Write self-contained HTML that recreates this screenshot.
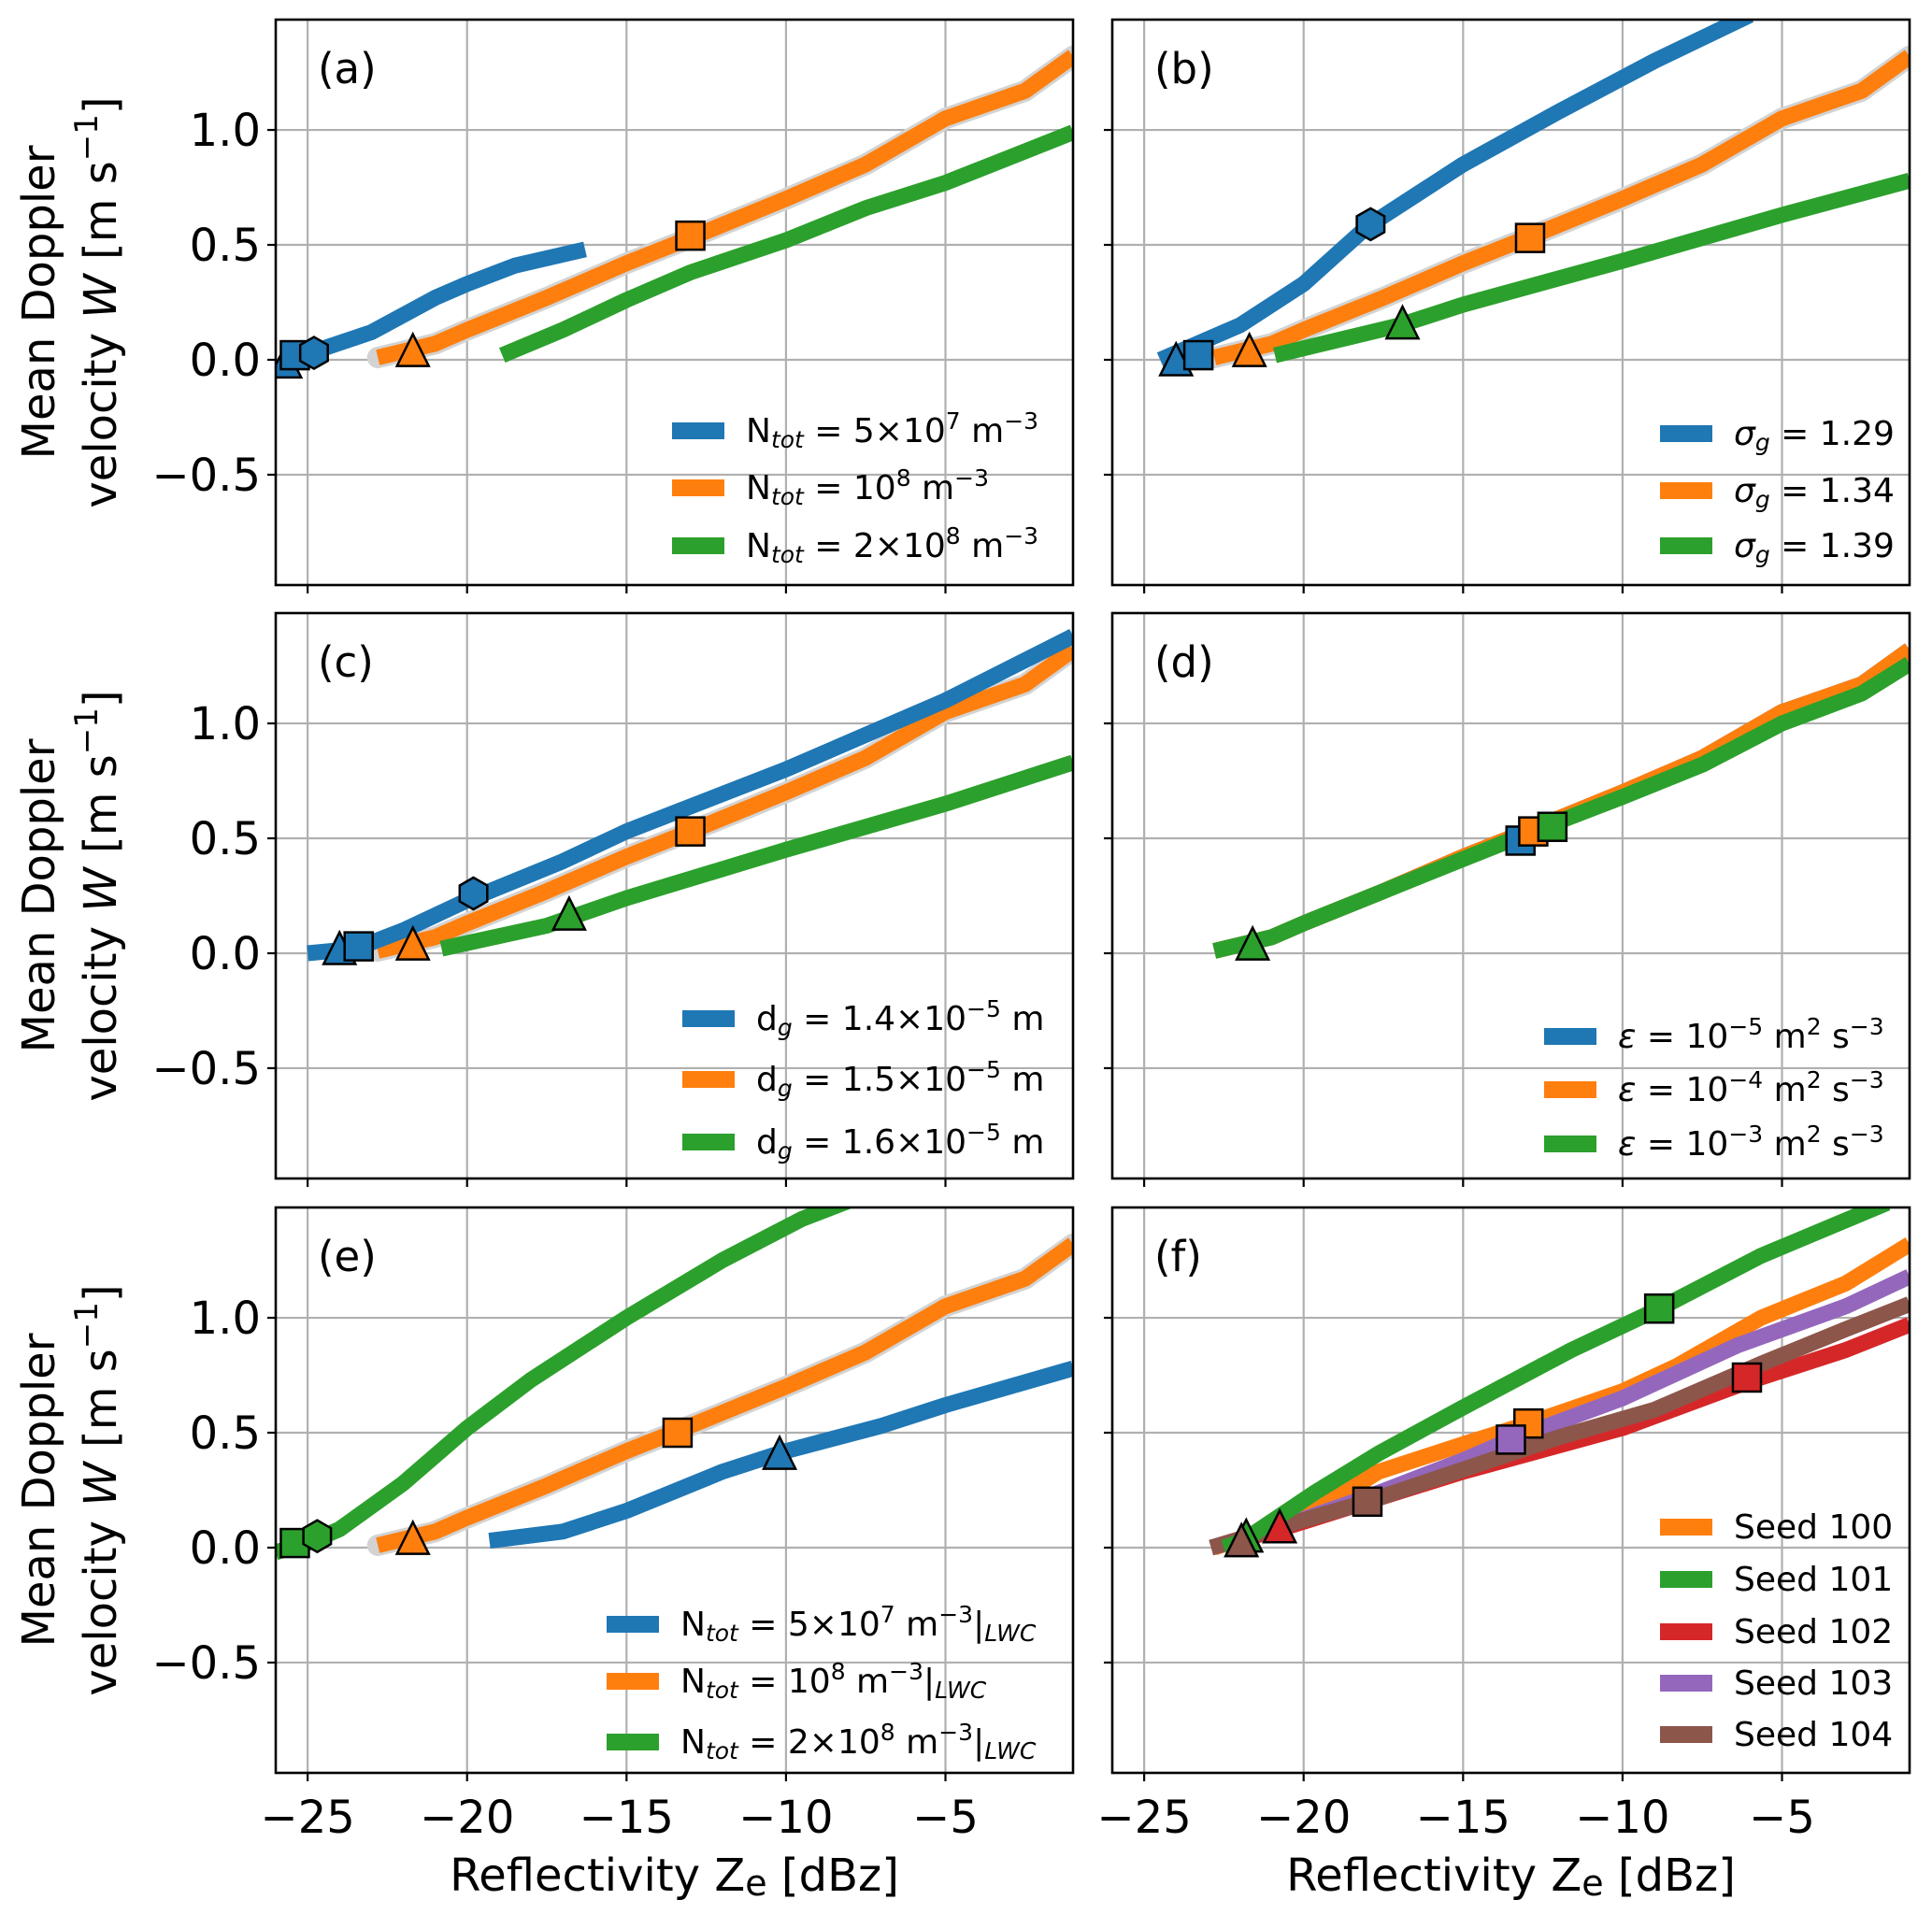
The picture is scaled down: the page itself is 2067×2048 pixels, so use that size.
<!DOCTYPE html>
<html><head><meta charset="utf-8"><style>
html,body{margin:0;padding:0;background:#fff;}
svg{display:block;font-family:"DejaVu Sans","Liberation Sans",sans-serif;}
</style></head><body>
<svg id="fig" width="2067" height="2048" viewBox="0 0 2067 2048" xmlns="http://www.w3.org/2000/svg">
<rect width="2067" height="2048" fill="#fff"/>
<g id="root"></g>
</svg>
<script>
// ---- data (x: reflectivity dBZ, y: mean Doppler velocity m/s) ----
const xTicks = [-25, -20, -15, -10, -5];
const xTickLabels = ["\u221225", "\u221220", "\u221215", "\u221210", "\u22125"];
const yTicks = [1.0, 0.5, 0.0, -0.5];
const yTickLabels = ["1.0", "0.5", "0.0", "\u22120.5"];
const panelLetters = ["(a)", "(b)", "(c)", "(d)", "(e)", "(f)"];

const refX = [-22.8, -21, -20, -17.5, -15, -13, -10, -7.5, -5, -2.5, -1];
const refY = [0.01, 0.07, 0.13, 0.27, 0.42, 0.53, 0.70, 0.85, 1.05, 1.17, 1.32];

const aBlueX = [-25.8, -24.5, -23, -21, -20, -18.5, -16.3];
const aBlueY = [0.0, 0.05, 0.12, 0.27, 0.33, 0.41, 0.48];
const aGreenX = [-18.9, -17, -15, -13, -10, -7.5, -5, -3, -1];
const aGreenY = [0.02, 0.13, 0.26, 0.38, 0.52, 0.66, 0.77, 0.88, 0.99];

const bBlueX = [-24.5, -22, -20, -18, -15, -12, -9, -6];
const bBlueY = [0.0, 0.15, 0.33, 0.58, 0.85, 1.08, 1.3, 1.5];
const bGreenX = [-20.9, -17, -15, -10, -5, -1];
const bGreenY = [0.02, 0.15, 0.24, 0.43, 0.63, 0.78];

const cBlueX = [-25, -23.5, -22, -20, -17, -15, -10, -5, -1];
const cBlueY = [0.0, 0.02, 0.1, 0.23, 0.4, 0.53, 0.8, 1.1, 1.38];
const cGreenX = [-20.8, -17.5, -15, -10, -5, -1];
const cGreenY = [0.02, 0.12, 0.24, 0.45, 0.65, 0.83];

const dGreenX = [-22.8, -21, -20, -17.5, -15, -13, -10, -7.5, -5, -2.5, -1];
const dGreenY = [0.01, 0.07, 0.13, 0.27, 0.41, 0.52, 0.68, 0.82, 1.0, 1.13, 1.26];

const eGreenX = [-26, -25, -24, -22, -20, -18, -15, -12, -9.5, -8];
const eGreenY = [-0.02, 0.02, 0.08, 0.28, 0.52, 0.73, 1.0, 1.25, 1.43, 1.51];
const eBlueX = [-19.3, -17, -15, -12, -10, -7, -5, -1];
const eBlueY = [0.03, 0.07, 0.16, 0.33, 0.42, 0.53, 0.62, 0.78];

const f100X = [-22.8, -20, -17.65, -15, -12.95, -10, -8.3, -5.65, -3, -1];
const f100Y = [0.0, 0.13, 0.33, 0.45, 0.54, 0.68, 0.79, 1.0, 1.15, 1.32];
const f101X = [-22.5, -21.9, -19.65, -17.65, -15, -11.6, -8.85, -5.65, -1.7];
const f101Y = [0.0, 0.03, 0.24, 0.41, 0.61, 0.86, 1.04, 1.27, 1.5];
const f102X = [-22.9, -20.75, -18, -15, -10, -6.1, -3, -1];
const f102Y = [0.0, 0.08, 0.2, 0.33, 0.52, 0.72, 0.86, 0.97];
const f103X = [-22.9, -20.5, -18, -15, -13.5, -10, -6.4, -3, -1];
const f103Y = [0.0, 0.1, 0.22, 0.38, 0.47, 0.65, 0.88, 1.05, 1.18];
const f104X = [-22.9, -20.5, -18, -15, -12, -9, -5.65, -3, -1];
const f104Y = [0.0, 0.1, 0.2, 0.34, 0.48, 0.6, 0.8, 0.95, 1.06];

// ---- layout ----
const C = {blue:"#1f77b4", orange:"#ff7f0e", green:"#2ca02c", red:"#d62728", purple:"#9467bd", brown:"#8c564b"};
const cols = [295, 1190], W = 853, rows = [21, 656, 1292], H = 605;
const X0 = -26, X1 = -1, Y0 = -0.98, Y1 = 1.48;
const NS = "http://www.w3.org/2000/svg";
const root = document.getElementById("root");
function mk(tag, attrs, parent){const e=document.createElementNS(NS,tag);for(const k in attrs)e.setAttribute(k,attrs[k]);(parent||root).appendChild(e);return e;}

const SUB = 'baseline-shift="-22%" font-size="25" font-style="italic"';
const SUP = 'baseline-shift="super" font-size="25"';
const panels = [
 {series:[{n:"ref",ref:true,x:refX,y:refY,c:C.orange},{n:"blue",x:aBlueX,y:aBlueY,c:C.blue},{n:"green",x:aGreenX,y:aGreenY,c:C.green}],
  markers:[["tri",-25.7,-0.02,C.blue],["sq",-25.4,0.02,C.blue],["hex",-24.8,0.03,C.blue],["tri",-21.7,0.03,C.orange],["sq",-13,0.54,C.orange]],
  legend:{sx:719,ys:[461,522,584],items:[[C.blue,`N<tspan ${SUB}>tot</tspan> = 5×10<tspan ${SUP}>7</tspan> m<tspan ${SUP}>−3</tspan>`],[C.orange,`N<tspan ${SUB}>tot</tspan> = 10<tspan ${SUP}>8</tspan> m<tspan ${SUP}>−3</tspan>`],[C.green,`N<tspan ${SUB}>tot</tspan> = 2×10<tspan ${SUP}>8</tspan> m<tspan ${SUP}>−3</tspan>`]]}},
 {series:[{n:"ref",ref:true,x:refX,y:refY,c:C.orange},{n:"blue",x:bBlueX,y:bBlueY,c:C.blue},{n:"green",x:bGreenX,y:bGreenY,c:C.green}],
  markers:[["tri",-24,-0.01,C.blue],["sq",-23.3,0.02,C.blue],["hex",-17.9,0.59,C.blue],["tri",-21.7,0.03,C.orange],["sq",-12.9,0.53,C.orange],["tri",-16.9,0.15,C.green]],
  legend:{sx:1776,ys:[464,525,584],items:[[C.blue,`<tspan font-style="italic">σ</tspan><tspan ${SUB}>g</tspan> = 1.29`],[C.orange,`<tspan font-style="italic">σ</tspan><tspan ${SUB}>g</tspan> = 1.34`],[C.green,`<tspan font-style="italic">σ</tspan><tspan ${SUB}>g</tspan> = 1.39`]]}},
 {series:[{n:"ref",ref:true,x:refX,y:refY,c:C.orange},{n:"blue",x:cBlueX,y:cBlueY,c:C.blue},{n:"green",x:cGreenX,y:cGreenY,c:C.green}],
  markers:[["tri",-24,0.01,C.blue],["sq",-23.4,0.03,C.blue],["hex",-19.8,0.26,C.blue],["tri",-21.7,0.03,C.orange],["sq",-13,0.53,C.orange],["tri",-16.8,0.16,C.green]],
  legend:{sx:730,ys:[1090,1155,1222],items:[[C.blue,`d<tspan ${SUB}>g</tspan> = 1.4×10<tspan ${SUP}>−5</tspan> m`],[C.orange,`d<tspan ${SUB}>g</tspan> = 1.5×10<tspan ${SUP}>−5</tspan> m`],[C.green,`d<tspan ${SUB}>g</tspan> = 1.6×10<tspan ${SUP}>−5</tspan> m`]]}},
 {series:[{n:"ref",ref:true,x:refX,y:refY,c:C.blue},{n:"orange",x:refX,y:refY,c:C.orange},{n:"green",x:dGreenX,y:dGreenY,c:C.green}],
  markers:[["sq",-13.2,0.49,C.blue],["sq",-12.8,0.53,C.orange],["sq",-12.2,0.55,C.green],["tri",-21.6,0.03,C.green]],
  legend:{sx:1652,ys:[1109,1166,1224],items:[[C.blue,`<tspan font-style="italic">ε</tspan> = 10<tspan ${SUP}>−5</tspan> m<tspan ${SUP}>2</tspan> s<tspan ${SUP}>−3</tspan>`],[C.orange,`<tspan font-style="italic">ε</tspan> = 10<tspan ${SUP}>−4</tspan> m<tspan ${SUP}>2</tspan> s<tspan ${SUP}>−3</tspan>`],[C.green,`<tspan font-style="italic">ε</tspan> = 10<tspan ${SUP}>−3</tspan> m<tspan ${SUP}>2</tspan> s<tspan ${SUP}>−3</tspan>`]]}},
 {series:[{n:"ref",ref:true,x:refX,y:refY,c:C.orange},{n:"green",x:eGreenX,y:eGreenY,c:C.green},{n:"blue",x:eBlueX,y:eBlueY,c:C.blue}],
  markers:[["sq",-25.4,0.02,C.green],["hex",-24.7,0.05,C.green],["tri",-21.7,0.03,C.orange],["sq",-13.4,0.5,C.orange],["tri",-10.2,0.4,C.blue]],
  legend:{sx:649,ys:[1738,1799,1864],items:[[C.blue,`N<tspan ${SUB}>tot</tspan> = 5×10<tspan ${SUP}>7</tspan> m<tspan ${SUP}>−3</tspan>|<tspan ${SUB}>LWC</tspan>`],[C.orange,`N<tspan ${SUB}>tot</tspan> = 10<tspan ${SUP}>8</tspan> m<tspan ${SUP}>−3</tspan>|<tspan ${SUB}>LWC</tspan>`],[C.green,`N<tspan ${SUB}>tot</tspan> = 2×10<tspan ${SUP}>8</tspan> m<tspan ${SUP}>−3</tspan>|<tspan ${SUB}>LWC</tspan>`]]}},
 {series:[{n:"seed-102",x:f102X,y:f102Y,c:C.red},{n:"seed-100",x:f100X,y:f100Y,c:C.orange},{n:"seed-103",x:f103X,y:f103Y,c:C.purple},{n:"seed-104",x:f104X,y:f104Y,c:C.brown},{n:"seed-101",x:f101X,y:f101Y,c:C.green}],
  markers:[["tri",-21.8,0.04,C.green],["tri",-20.75,0.08,C.red],["tri",-21.95,0.02,C.brown],["sq",-12.95,0.54,C.orange],["sq",-13.5,0.47,C.purple],["sq",-18,0.2,C.brown],["sq",-8.85,1.04,C.green],["sq",-6.1,0.74,C.red]],
  legend:{sx:1776,ys:[1634,1690,1746,1801,1856],items:[[C.orange,"Seed 100"],[C.green,"Seed 101"],[C.red,"Seed 102"],[C.purple,"Seed 103"],[C.brown,"Seed 104"]]}}
];

const defs = mk("defs",{});
panels.forEach((p,i)=>{
  const L = cols[i%2], T = rows[Math.floor(i/2)];
  const sx = v => L + (v - X0)/(X1 - X0)*W;
  const sy = v => T + (Y1 - v)/(Y1 - Y0)*H;
  const cp = mk("clipPath",{id:"clip"+i},defs); mk("rect",{x:L,y:T,width:W,height:H},cp);
  const g = mk("g",{});
  
  
  xTicks.forEach(v=>{const l=mk("line",{x1:sx(v),x2:sx(v),y1:T,y2:T+H,stroke:"#b0b0b0","stroke-width":2.2},g);
    
    
    const t=mk("line",{x1:sx(v),x2:sx(v),y1:T+H,y2:T+H+9,stroke:"#000","stroke-width":2.2},g);
    
    });
  yTicks.forEach(v=>{const l=mk("line",{x1:L,x2:L+W,y1:sy(v),y2:sy(v),stroke:"#b0b0b0","stroke-width":2.2},g);
    
    
    const t=mk("line",{x1:L-9,x2:L,y1:sy(v),y2:sy(v),stroke:"#000","stroke-width":2.2},g);
    
    });
  const sg = mk("g",{"clip-path":"url(#clip"+i+")"},g);
  p.series.forEach(s=>{
    const pts = s.x.map((v,k)=>sx(v).toFixed(1)+","+sy(s.y[k]).toFixed(1)).join(" ");
    if(s.ref && i!==3){
      const bg = mk("polyline",{points:pts,fill:"none",stroke:"#d3d3d3","stroke-width":23,"stroke-linecap":"round","stroke-linejoin":"round"},sg);
      
      
    }
    const pl = mk("polyline",{points:pts,fill:"none",stroke:s.c,"stroke-width":17,"stroke-linejoin":"round"},sg);
    
    
  });
  p.markers.forEach(m=>{
    const cx=sx(m[1]), cy=sy(m[2]); let e;
    if(m[0]==="sq"){e=mk("rect",{x:cx-15,y:cy-15,width:30,height:30},sg);}
    else if(m[0]==="tri"){e=mk("polygon",{points:`${cx},${cy-20} ${cx-17},${cy+14} ${cx+17},${cy+14}`},sg);}
    else {const r=17;let a=[];for(let k=0;k<6;k++){const an=Math.PI/180*(60*k-90);a.push((cx+r*Math.cos(an)).toFixed(1)+","+(cy+r*Math.sin(an)).toFixed(1));}e=mk("polygon",{points:a.join(" ")},sg);}
    e.setAttribute("fill",m[3]);e.setAttribute("stroke","#000");e.setAttribute("stroke-width",2.5);
    
    
  });
  const fr = mk("rect",{x:L,y:T,width:W,height:H,fill:"none",stroke:"#000","stroke-width":2.6},g);
  
  
  const pt = mk("text",{x:L+45,y:T+68,"font-size":45},g); pt.textContent = panelLetters[i];
  
  
  const lg = mk("g",{},g);
  
  
  p.legend.items.forEach((it,k)=>{
    const y = p.legend.ys[k];
    const sw = mk("rect",{x:p.legend.sx,y:y-9,width:56,height:18,fill:it[0]},lg);
    
    
    const tx = mk("text",{x:p.legend.sx+79,y:y+12,"font-size":36},lg);
    tx.innerHTML = it[1];
    
    
  });
  if(i%2===0){
    yTicks.forEach((v,k)=>{const t=mk("text",{x:L-16,y:sy(v)+17,"font-size":48,"text-anchor":"end"},g);t.textContent=yTickLabels[k];
      
      });
    const cy = T + H/2;
    const yl = mk("text",{x:0,y:0,"font-size":48,"text-anchor":"middle",transform:`translate(58,${cy}) rotate(-90)`},g);
    yl.innerHTML = '<tspan x="0" dy="0">Mean Doppler</tspan><tspan x="0" dy="66">velocity <tspan font-style="italic">W</tspan> [m s<tspan baseline-shift="super" font-size="34">−1</tspan>]</tspan>';
    
    
  }
  if(i>=4){
    xTicks.forEach((v,k)=>{const t=mk("text",{x:sx(v),y:T+H+64,"font-size":48,"text-anchor":"middle"},g);t.textContent=xTickLabels[k];
      
      });
    const xl = mk("text",{x:L+W/2,y:T+H+126,"font-size":48,"text-anchor":"middle"},g);
    xl.innerHTML = 'Reflectivity Z<tspan baseline-shift="-12%" font-size="38">e</tspan> [dBz]';
    
    
  }
});
</script>
</body></html>
